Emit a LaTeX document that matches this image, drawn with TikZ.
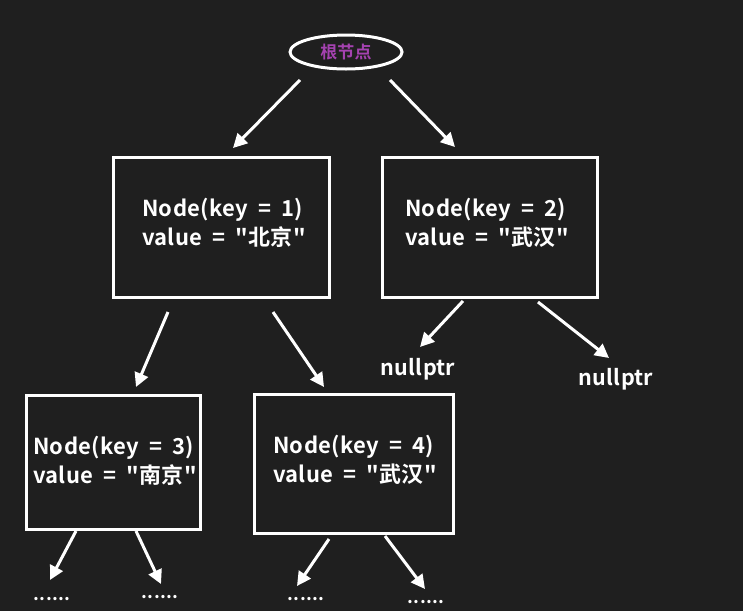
\documentclass[tikz,border=0pt]{standalone}
\usepackage{fontspec}
\setmainfont{Noto Sans CJK SC}[BoldFont={* Bold},Ligatures=TeXOff,WordSpace=1.9,LetterSpace=1.5]
\usetikzlibrary{shapes.geometric,arrows.meta}
\definecolor{bg}{HTML}{1F1F1F}
\definecolor{rootc}{HTML}{A442B0}
\begin{document}
\begin{tikzpicture}[x=1pt,y=-1pt,
  treebox/.style={draw=white,line width=3pt},
  boxtext/.style={text=white,font=\bfseries\fontsize{22}{29}\selectfont,align=left},
  link/.style={draw=white,line width=3pt,-{Triangle[length=14pt,width=14pt]}},
  leaf/.style={text=white,font=\bfseries\fontsize{21.5}{24}\selectfont},
  dots/.style={text=white,font=\bfseries\fontsize{18}{18}\selectfont}]
\fill[bg] (0,0) rectangle (743,611);
\useasboundingbox (0,0) rectangle (743,611);
% root
\node[ellipse,draw=white,line width=3pt,minimum width=112pt,minimum height=34pt,inner sep=0pt,
  text=rootc,font=\bfseries\fontsize{17}{18}\selectfont] (root) at (346,52) {根节点};
% boxes
\draw[treebox] (113,157) rectangle (329,297);
\node[boxtext] (n1) at (224,223) {Node(key = 1)\\value = "北京"};
\draw[treebox] (382,157) rectangle (597,297);
\node[boxtext] (n2) at (487,223) {Node(key = 2)\\value = "武汉"};
\draw[treebox] (26,395) rectangle (200,529);
\node[boxtext] (n3) at (115,461) {Node(key = 3)\\value = "南京"};
\draw[treebox] (254,394) rectangle (453,533);
\node[boxtext] (n4) at (355,460) {Node(key = 4)\\value = "武汉"};
% leaves
\node[leaf] (l1) at (418,369) {nullptr};
\node[leaf] (l2) at (616,379) {nullptr};
\node[dots] (d1) at (52,599) {......};
\node[dots] (d2) at (160,597) {......};
\node[dots] (d3) at (306,599) {......};
\node[dots] (d4) at (426,602) {......};
% arrow end points
\coordinate (a1s) at (300,80);  \coordinate (a1e) at (233,148);
\coordinate (a2s) at (390,80);  \coordinate (a2e) at (455,147);
\coordinate (b1s) at (168,312); \coordinate (b1e) at (136,387);
\coordinate (b2s) at (273,312); \coordinate (b2e) at (324,387);
\coordinate (c1s) at (463,301); \coordinate (c1e) at (420,347);
\coordinate (c2s) at (538,302); \coordinate (c2e) at (609,358);
\coordinate (e1s) at (76,531);  \coordinate (e1e) at (50,580);
\coordinate (e2s) at (136,531); \coordinate (e2e) at (161,584);
\coordinate (f1s) at (329,539); \coordinate (f1e) at (297,586);
\coordinate (f2s) at (385,536); \coordinate (f2e) at (425,589);
\foreach \s/\e in {a1s/a1e,a2s/a2e,b1s/b1e,b2s/b2e,c1s/c1e,c2s/c2e,e1s/e1e,e2s/e2e,f1s/f1e,f2s/f2e}
  \draw[link] (\s) -- (\e);
\end{tikzpicture}
\end{document}
